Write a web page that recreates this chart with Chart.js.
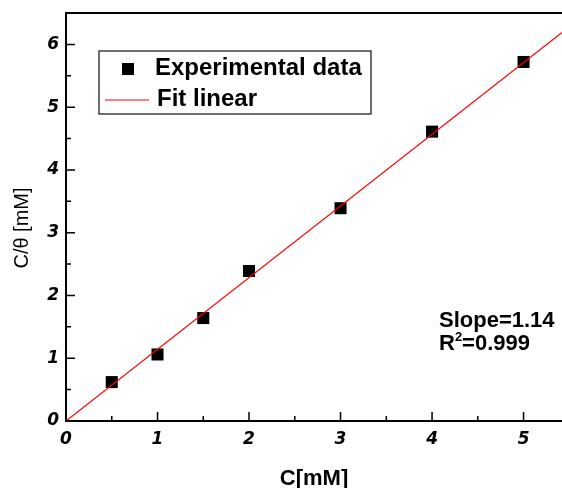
<!DOCTYPE html>
<html lang="en">
<head>
<meta charset="UTF-8">
<title>C/θ vs C</title>
<script src="https://cdn.jsdelivr.net/npm/chart.js"></script>
<style>
  html, body { margin: 0; padding: 0; background: #fff; }
  #wrap { width: 562px; height: 488px; position: relative; }
</style>
</head>
<body>
<div id="wrap"><canvas id="chart"></canvas></div>
<script>
const concX = [0.5, 1, 1.5, 2, 3, 4, 5];
const ratioY = [0.62, 1.06, 1.64, 2.39, 3.39, 4.61, 5.72];
// fitted line, end points
const fitX = [0, 5.42];
const fitY = [0, 6.19];
// tick positions
const xMajor = [0, 1, 2, 3, 4, 5];
const xMinor = [0.5, 1.5, 2.5, 3.5, 4.5];
const yMajor = [0, 1, 2, 3, 4, 5, 6];
const yMinor = [0.5, 1.5, 2.5, 3.5, 4.5, 5.5];

const tickFont = { family: 'DejaVu Sans', size: 17, weight: 'bold', style: 'italic' };

// frame top line, inward ticks, legend box and fit text
const decorations = {
  id: 'decorations',
  afterDraw(chart) {
    const { ctx, chartArea: a, scales: { x, y } } = chart;
    ctx.save();
    ctx.strokeStyle = '#000';
    ctx.lineWidth = 2;
    ctx.beginPath();
    ctx.moveTo(a.left - 1, a.top);
    ctx.lineTo(a.right, a.top);
    ctx.stroke();

    ctx.lineWidth = 1.5;
    ctx.beginPath();
    xMajor.forEach(v => { const px = x.getPixelForValue(v); ctx.moveTo(px, a.bottom); ctx.lineTo(px, a.bottom - 9); });
    xMinor.forEach(v => { const px = x.getPixelForValue(v); ctx.moveTo(px, a.bottom); ctx.lineTo(px, a.bottom - 5); });
    yMajor.forEach(v => { const py = y.getPixelForValue(v); ctx.moveTo(a.left, py); ctx.lineTo(a.left + 9, py); });
    yMinor.forEach(v => { const py = y.getPixelForValue(v); ctx.moveTo(a.left, py); ctx.lineTo(a.left + 5, py); });
    ctx.stroke();

    // legend
    const pts = chart.data.datasets[1];
    const fit = chart.data.datasets[0];
    ctx.lineWidth = 1.3;
    ctx.strokeStyle = '#222';
    ctx.strokeRect(99, 51, 272, 63);
    ctx.fillStyle = pts.backgroundColor;
    ctx.fillRect(122, 63, 12, 12);
    ctx.strokeStyle = fit.borderColor;
    ctx.lineWidth = fit.borderWidth;
    ctx.beginPath();
    ctx.moveTo(105, 100);
    ctx.lineTo(149, 100);
    ctx.stroke();
    ctx.fillStyle = '#000';
    ctx.font = 'bold 24px "Liberation Sans"';
    ctx.textBaseline = 'middle';
    ctx.textAlign = 'left';
    ctx.fillText(pts.label, 155, 68);
    ctx.fillText(fit.label, 157, 99);

    // fit result
    ctx.textBaseline = 'alphabetic';
    ctx.font = 'bold 22px "Liberation Sans"';
    ctx.fillText('Slope=1.14', 439, 327);
    ctx.fillText('R', 439, 350);
    const rw = ctx.measureText('R').width;
    ctx.font = 'bold 13px "Liberation Sans"';
    ctx.fillText('2', 439 + rw, 341);
    const sw = ctx.measureText('2').width;
    ctx.font = 'bold 22px "Liberation Sans"';
    ctx.fillText('=0.999', 439 + rw + sw, 350);

    // y axis title
    ctx.translate(22, 228);
    ctx.rotate(-Math.PI / 2);
    ctx.textAlign = 'center';
    ctx.textBaseline = 'middle';
    ctx.font = '20px "Liberation Sans"';
    ctx.fillText('C/θ [mM]', 0, 0);
    ctx.restore();
  }
};

new Chart(document.getElementById('chart'), {
  type: 'scatter',
  data: {
    datasets: [
      {
        type: 'line',
        label: 'Fit linear',
        data: fitX.map((v, i) => ({ x: v, y: fitY[i] })),
        borderColor: '#ff0000',
        borderWidth: 1.2,
        pointRadius: 0,
        fill: false,
        order: 0
      },
      {
        label: 'Experimental data',
        data: concX.map((v, i) => ({ x: v, y: ratioY[i] })),
        pointStyle: 'rect',
        pointRadius: 8.5,
        backgroundColor: '#000',
        borderColor: '#000',
        borderWidth: 0,
        order: 1
      }
    ]
  },
  options: {
    responsive: true,
    maintainAspectRatio: false,
    animation: false,
    layout: { autoPadding: false, padding: { top: 13, right: 0, left: 0, bottom: 0 } },
    plugins: { legend: { display: false }, tooltip: { enabled: false } },
    scales: {
      x: {
        type: 'linear',
        position: 'bottom',
        min: 0,
        max: 5.42,
        afterFit: s => { s.height = 67; s.paddingLeft = 0; s.paddingRight = 0; },
        grid: { display: false, drawTicks: false },
        border: { display: true, color: '#000', width: 2 },
        ticks: { stepSize: 1, includeBounds: false, padding: 8, color: '#000', font: tickFont },
        title: {
          display: true,
          text: 'C[mM]',
          color: '#000',
          font: { family: 'Liberation Sans', size: 22, weight: 'bold' },
          padding: { top: 0, bottom: -4 }
        }
      },
      y: {
        type: 'linear',
        min: 0,
        max: 6.5,
        afterFit: s => { s.width = 66; s.paddingTop = 0; s.paddingBottom = 0; },
        grid: { display: false, drawTicks: false },
        border: { display: true, color: '#000', width: 2 },
        ticks: { stepSize: 1, includeBounds: false, padding: 7, color: '#000', font: tickFont }
      }
    }
  },
  plugins: [decorations]
});
</script>
</body>
</html>
